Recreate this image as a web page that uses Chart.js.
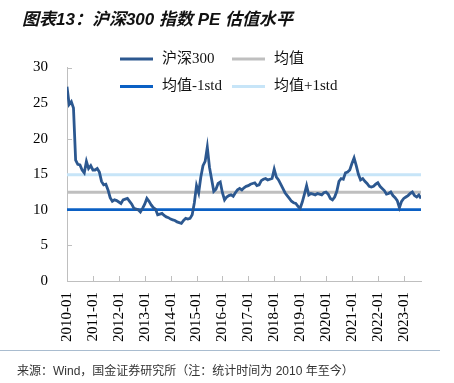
<!DOCTYPE html>
<html>
<head>
<meta charset="utf-8">
<script src="https://cdn.jsdelivr.net/npm/chart.js@4"></script>
<style>
html,body{margin:0;padding:0;background:#fff;}
#wrap{position:relative;width:454px;height:383px;overflow:hidden;background:#fff;}
#title{position:absolute;left:22px;top:5px;font:italic bold 17px "Liberation Sans","Noto Sans CJK SC",sans-serif;color:#111;white-space:nowrap;}
#footline{position:absolute;left:0;top:350px;width:440px;height:0;border-top:1.5px solid #a9bccf;}
#foot{position:absolute;left:17px;top:361px;font:12px "Liberation Sans","Noto Sans CJK SC",sans-serif;color:#333;white-space:nowrap;}
canvas{position:absolute;left:0;top:0;}
</style>
</head>
<body>
<div id="wrap">
  <canvas id="c" width="454" height="383"></canvas>
  <div id="title">图表13：沪深300 指数 PE 估值水平</div>
  <div id="footline"></div>
  <div id="foot">来源：Wind，国金证券研究所（注：统计时间为 2010 年至今）</div>
</div>
<script>
// ---- data ----
const seriesNames = ['沪深300', '均值', '均值-1std', '均值+1std'];
const tickLabels = ['2010-01','2011-01','2012-01','2013-01','2014-01','2015-01','2016-01',
                    '2017-01','2018-01','2019-01','2020-01','2021-01','2022-01','2023-01'];
const monthsPerTick = 12;
// monthly PE values, 2010-01 .. 2023-09
const pe = [
  27.3, 24.8, 25.2, 24.3, 17.0, 16.4, 16.3, 15.6, 15.2, 16.8, 15.8, 16.2,
  15.6, 15.6, 15.8, 15.3, 14.0, 13.5, 13.6, 12.8, 11.7, 11.2, 11.4, 11.3,
  11.1, 10.9, 11.4, 11.5, 11.6, 11.2, 10.8, 10.2, 10.1, 10.0, 9.7, 10.2,
  10.8, 11.6, 11.2, 10.7, 10.3, 10.1, 9.3, 9.4, 9.5, 9.2, 9.0, 8.9,
  8.7, 8.6, 8.5, 8.3, 8.2, 8.1, 8.5, 8.8, 8.7, 8.8, 9.3, 11.0,
  13.4, 12.4, 14.6, 16.2, 16.8, 18.8, 16.0, 14.3, 12.6, 12.9, 13.7, 13.9,
  12.4, 11.4, 11.8, 12.0, 12.1, 11.9, 12.4, 12.8, 13.0, 12.8, 13.1, 13.3,
  13.4, 13.6, 13.7, 13.8, 13.4, 13.5, 14.1, 14.3, 14.4, 14.2, 14.3, 14.4,
  15.7, 14.6, 14.2, 13.6, 13.0, 12.4, 12.0, 11.6, 11.2, 11.0, 10.9, 10.5,
  10.2, 11.1, 12.2, 13.4, 12.1, 12.3, 12.2, 12.1, 12.3, 12.2, 12.1, 12.4,
  12.5, 12.2, 11.6, 11.4, 11.8, 12.6, 14.0, 14.4, 14.3, 15.2, 15.3, 15.6,
  16.5, 17.3, 16.2, 15.0, 14.2, 14.4, 14.0, 13.7, 13.3, 13.2, 13.3, 13.6,
  13.8, 13.3, 13.0, 12.7, 12.2, 12.3, 12.5, 12.0, 11.7, 11.3, 10.3, 11.2,
  11.6, 11.8, 12.0, 12.3, 12.5, 12.0, 11.8, 12.1, 11.6
];
const peMean = 12.48;
const peMinus = 10.03;
const pePlus = 14.93;
const yMin = 0, yMax = 30, yStep = 5;

// ---- chart ----
const last = pe.length - 1;
const flat = v => [{x: 0, y: v}, {x: last, y: v}];
const colors = ['#2c5890', '#bfbfbf', '#0b60c4', '#c7e5f8'];
const AXIS = '#bfbfbf';

const innerTicks = {
  id: 'innerTicks',
  beforeDatasetsDraw(chart) {
    const {ctx, chartArea: a, scales: {x, y}} = chart;
    ctx.save();
    ctx.strokeStyle = AXIS;
    ctx.lineWidth = 1;
    ctx.beginPath();
    x.ticks.forEach(t => {
      const px = Math.round(x.getPixelForValue(t.value)) + 0.5;
      ctx.moveTo(px, a.bottom); ctx.lineTo(px, a.bottom - 5);
    });
    y.ticks.forEach(t => {
      const py = Math.round(y.getPixelForValue(t.value)) + 0.5;
      ctx.moveTo(a.left, py); ctx.lineTo(a.left + 5, py);
    });
    ctx.stroke();
    ctx.restore();
  }
};

const legendPos = [[120, 59], [232, 59], [120, 86.5], [232, 86.5]];
const customLegend = {
  id: 'customLegend',
  afterDraw(chart) {
    const ctx = chart.ctx;
    ctx.save();
    ctx.font = '15px "Liberation Serif","Noto Sans CJK SC",serif';
    ctx.textBaseline = 'middle';
    ctx.fillStyle = '#111';
    chart.data.datasets.forEach((ds, i) => {
      const [lx, ly] = legendPos[i];
      ctx.strokeStyle = ds.borderColor;
      ctx.lineWidth = 3;
      ctx.beginPath();
      ctx.moveTo(lx, ly); ctx.lineTo(lx + 33, ly);
      ctx.stroke();
      ctx.fillText(ds.label, lx + 42, ly);
    });
    ctx.restore();
  }
};

new Chart(document.getElementById('c'), {
  type: 'line',
  data: {
    datasets: [
      {label: seriesNames[0], data: pe.map((v, i) => ({x: i, y: v})), borderColor: colors[0], borderWidth: 2.8, pointRadius: 0, tension: 0},
      {label: seriesNames[1], data: flat(peMean), borderColor: colors[1], borderWidth: 3, pointRadius: 0},
      {label: seriesNames[2], data: flat(peMinus), borderColor: colors[2], borderWidth: 2.6, pointRadius: 0},
      {label: seriesNames[3], data: flat(pePlus), borderColor: colors[3], borderWidth: 3, pointRadius: 0}
    ]
  },
  options: {
    responsive: false,
    animation: false,
    devicePixelRatio: 1,
    layout: {padding: {left: 0, top: 67.5, right: 33, bottom: 0}},
    plugins: {legend: {display: false}, tooltip: {enabled: false}},
    scales: {
      x: {
        type: 'linear', min: 0, max: last,
        afterFit(s) { s.height = 102; },
        grid: {drawOnChartArea: false, drawTicks: false},
        border: {color: AXIS, width: 1},
        ticks: {
          stepSize: monthsPerTick, includeBounds: false, autoSkip: false,
          minRotation: 90, maxRotation: 90, padding: 11,
          color: '#000', font: {family: '"Liberation Serif", serif', size: 15},
          callback: v => tickLabels[v / monthsPerTick] ?? ''
        }
      },
      y: {
        min: yMin, max: yMax,
        afterFit(s) { s.width = 67; },
        grid: {drawOnChartArea: false, drawTicks: false},
        border: {color: AXIS, width: 1},
        ticks: {stepSize: yStep, padding: 19, color: '#000', font: {family: '"Liberation Serif", serif', size: 15}}
      }
    }
  },
  plugins: [innerTicks, customLegend]
});
</script>
</body>
</html>
